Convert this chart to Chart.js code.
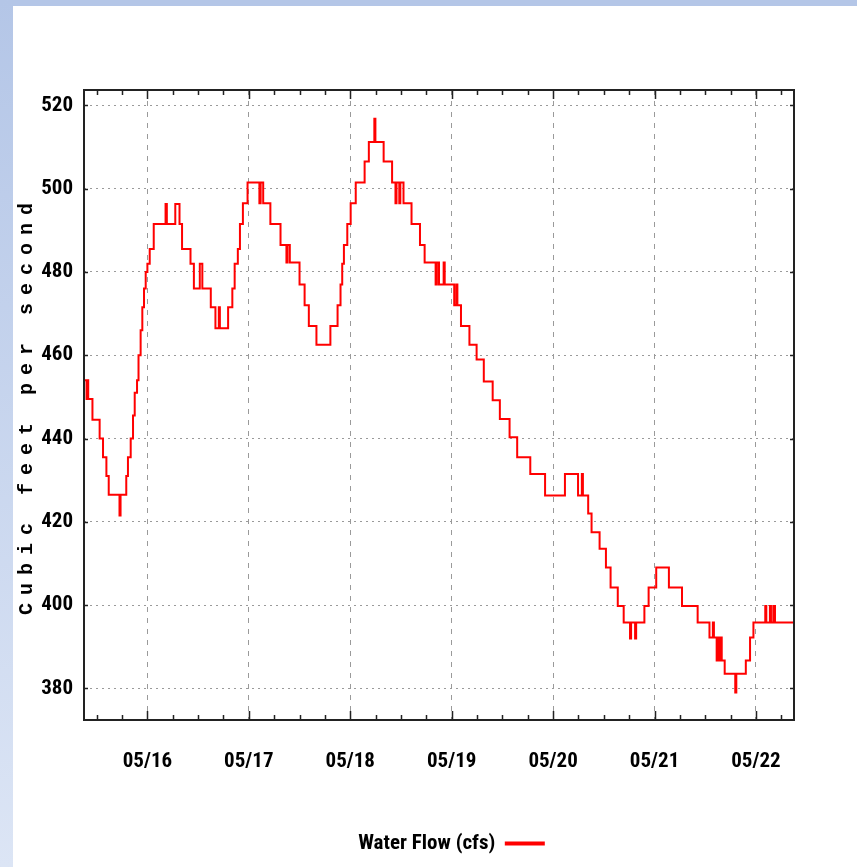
<!DOCTYPE html>
<html>
<head>
<meta charset="utf-8">
<script src="https://cdn.jsdelivr.net/npm/chart.js@4.4.1/dist/chart.umd.min.js"></script>
<style>
  html, body { margin: 0; padding: 0; width: 857px; height: 867px; overflow: hidden; background: #ffffff; }
  #topbar { position: absolute; left: 0; top: 0; width: 857px; height: 6px; background: #b4c6e7; }
  #leftbar { position: absolute; left: 0; top: 0; width: 13px; height: 867px; background: linear-gradient(#b4c6e7, #dce5f5); }
  #wrap { position: absolute; left: 0; top: 0; width: 857px; height: 867px; }
</style>
</head>
<body>
<div id="topbar"></div>
<div id="leftbar"></div>
<div id="wrap"><canvas id="chart" width="857" height="867"></canvas></div>
<script>
// ---- data (hours since 05/16 00:00, water flow in cfs) ----
const hours = [
  -15, -14.4, -14.2, -14.0, -13.0, -11.3, -10.5, -9.7, -9.15, -6.6,
  -6.35, -5.0, -4.6, -3.95, -3.4, -3.0, -2.45, -2.1, -1.6, -1.2,
  -0.8, -0.4, 0.0, 0.55, 1.5, 4.3, 4.6, 6.6, 7.6, 8.2,
  10.2, 11.0, 12.4, 13.0, 15.0, 16.1, 16.9, 17.15, 19.1, 20.1,
  20.65, 21.4, 21.9, 22.6, 23.7, 26.5, 26.8, 27.4, 29.1, 31.5,
  32.9, 33.15, 33.7, 36.0, 37.2, 38.2, 40.0, 43.3, 45.0, 45.7,
  46.1, 46.5, 47.3, 48.1, 49.3, 51.4, 52.4, 53.7, 53.95, 55.9,
  57.9, 58.7, 58.95, 59.6, 59.85, 60.6, 62.5, 64.5, 65.6, 68.2,
  68.5, 69.0, 70.1, 70.35, 72.6, 73.1, 73.35, 74.2, 76.2, 77.9,
  79.6, 81.7, 83.4, 85.7, 87.5, 90.6, 94.1, 98.8, 101.9, 102.8,
  103.05, 104.3, 105.1, 107.0, 108.5, 109.6, 111.3, 112.7, 114.2, 114.45,
  115.4, 115.65, 117.6, 118.6, 120.4, 123.4, 126.5, 130.2, 133.0, 133.8,
  134.05, 134.7, 134.95, 135.3, 135.55, 135.9, 136.6, 139.1, 139.35, 141.6,
  142.6, 143.4, 146.2, 146.45, 147.3, 147.55, 148.1, 148.5, 153
];
const flow = [
  454, 449.5, 454, 449.5, 444.5, 440, 435.5, 431, 426.5, 421.5,
  426.5, 431, 435.5, 440, 445.5, 451, 454, 460, 466, 471.5,
  476, 480, 482, 485.5, 491.5, 496.3, 491.5, 496.3, 491.5, 485.5,
  482, 476, 482, 476, 471.5, 466.5, 471.5, 466.5, 471.5, 476,
  482, 485.5, 491.5, 496.5, 501.5, 496.5, 501.5, 496.5, 491.5, 486.5,
  482.3, 486.5, 482.3, 477, 472, 467, 462.5, 467, 472, 477,
  482, 486.5, 491.5, 496.5, 501.5, 506.5, 511.2, 516.8, 511.2, 506.5,
  501.5, 496.5, 501.5, 496.5, 501.5, 496.5, 491.5, 486.5, 482.3, 477,
  482.3, 477, 482.3, 477, 472, 477, 472, 467, 462.5, 459,
  453.7, 449.2, 444.7, 440.3, 435.5, 431.5, 426.3, 431.5, 426.3, 431.5,
  426.3, 422, 417.5, 413.5, 409, 404.2, 399.8, 395.8, 392, 395.8,
  392, 395.8, 399.8, 404.2, 409, 404.2, 399.8, 395.8, 392.2, 395.8,
  392.2, 386.7, 392.2, 386.7, 392.2, 386.7, 383.5, 379, 383.5, 386.7,
  392.2, 395.8, 399.8, 395.8, 399.8, 395.8, 399.8, 395.8, 395.8
];
const seriesLabel = 'Water Flow (cfs)';
const yTicks = [380, 400, 420, 440, 460, 480, 500, 520];
const dayTicks = [0, 24, 48, 72, 96, 120, 144];
const dayLabels = ['05/16', '05/17', '05/18', '05/19', '05/20', '05/21', '05/22'];
const minorTicks = [-12, -6, 0, 6, 12, 18, 24, 30, 36, 42, 48, 54, 60, 66, 72, 78, 84, 90, 96, 102, 108, 114, 120, 126, 132, 138, 144, 150];
const yTitle = 'Cubic feet per second';
const X_MIN = -15, X_MAX = 153, Y_MIN = 372.4, Y_MAX = 523.7;

// ---- styling ----
const LEGEND_SHIFT = 54;
const LABEL_FONT = { family: 'Roboto', size: 21, weight: 'bold condensed' };

class SpacedLinearScale extends Chart.LinearScale {
  drawTitle(...args) {
    const ctx = this.ctx;
    ctx.save();
    ctx.letterSpacing = '8px';
    super.drawTitle(...args);
    ctx.restore();
  }
}
SpacedLinearScale.id = 'spacedLinear';
SpacedLinearScale.defaults = Chart.LinearScale.defaults;
Chart.register(SpacedLinearScale);

const framePlugin = {
  id: 'frame',
  afterLayout(chart) {
    const lg = chart.legend;
    if (lg) { lg.left += LEGEND_SHIFT; lg.right += LEGEND_SHIFT; }
  },
  afterDraw(chart) {
    const { ctx, chartArea: a, scales } = chart;
    const x = scales.x, y = scales.y;
    ctx.save();
    ctx.strokeStyle = '#222';
    ctx.lineWidth = 1.5;
    ctx.beginPath();
    minorTicks.forEach(h => {
      const px = Math.round(x.getPixelForValue(h)) + 0.5;
      const len = dayTicks.includes(h) ? 9 : 5;
      ctx.moveTo(px, a.bottom); ctx.lineTo(px, a.bottom - len);
      ctx.moveTo(px, a.top); ctx.lineTo(px, a.top + len);
    });
    yTicks.forEach(v => {
      const py = Math.round(y.getPixelForValue(v)) + 0.5;
      ctx.moveTo(a.left, py); ctx.lineTo(a.left + 4, py);
      ctx.moveTo(a.right, py); ctx.lineTo(a.right - 4, py);
    });
    ctx.stroke();
    ctx.lineWidth = 2;
    ctx.strokeStyle = '#222';
    ctx.strokeRect(a.left, a.top, a.right - a.left, a.bottom - a.top);
    ctx.restore();
  }
};

new Chart(document.getElementById('chart'), {
  type: 'line',
  data: {
    datasets: [{
      label: seriesLabel,
      data: hours.map((h, i) => ({ x: h, y: flow[i] })),
      borderColor: '#ff0000',
      backgroundColor: '#ff0000',
      borderWidth: 2,
      pointRadius: 0,
      stepped: true,
      tension: 0
    }]
  },
  options: {
    responsive: false,
    animation: false,
    devicePixelRatio: 1,
    layout: { padding: { top: 90, right: 63, bottom: 3, left: 0 } },
    plugins: {
      tooltip: { enabled: false },
      legend: {
        position: 'bottom',
        rtl: true,
        labels: {
          color: '#000',
          font: LABEL_FONT,
          boxWidth: 38,
          boxHeight: 2,
          padding: 10
        }
      }
    },
    scales: {
      x: {
        type: 'linear',
        min: X_MIN,
        max: X_MAX,
        afterBuildTicks: s => { s.ticks = dayTicks.map(v => ({ value: v })); },
        afterFit: s => { s.height = 103; },
        ticks: {
          callback: v => dayLabels[dayTicks.indexOf(v)],
          color: '#000',
          font: LABEL_FONT,
          padding: 29,
          maxRotation: 0,
          autoSkip: false
        },
        grid: { color: '#9a9a9a', lineWidth: 1, drawTicks: false },
        border: { display: false, dash: [5, 6] }
      },
      y: {
        type: 'spacedLinear',
        min: Y_MIN,
        max: Y_MAX,
        afterBuildTicks: s => { s.ticks = yTicks.map(v => ({ value: v })); },
        afterFit: s => { s.width = 84; },
        ticks: {
          color: '#000',
          font: LABEL_FONT,
          padding: 11
        },
        grid: { color: '#9a9a9a', lineWidth: 1, drawTicks: false },
        border: { display: false, dash: [2, 4] },
        title: {
          display: true,
          text: yTitle,
          color: '#000',
          font: { family: "'Liberation Mono', 'DejaVu Sans Mono', monospace", size: 20, weight: 'bold' },
          padding: { top: 15, bottom: 0 }
        }
      }
    }
  },
  plugins: [framePlugin]
});
</script>
</body>
</html>
